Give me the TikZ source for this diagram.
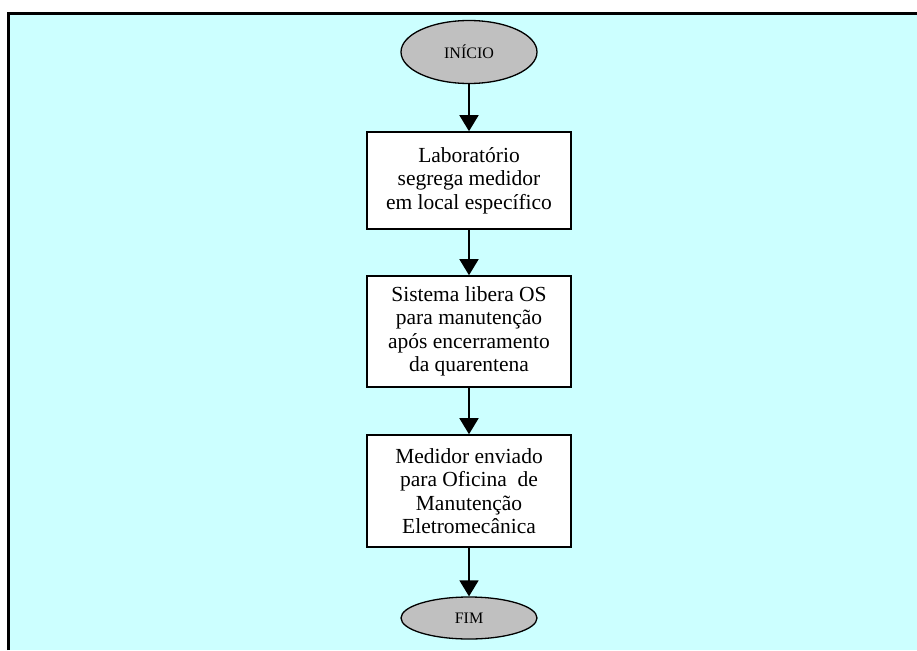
\documentclass[tikz,border=0pt]{standalone}
\usepackage{fontspec}
\setmainfont{Liberation Serif}
\usetikzlibrary{shapes.geometric,arrows.meta}
\definecolor{panelcyan}{HTML}{CCFFFF}
\definecolor{termgray}{HTML}{C0C0C0}
\tikzset{
  stepbox/.style={draw=black, line width=1.6pt, fill=white, rectangle,
    minimum width=204pt, align=center, inner sep=0pt,
    font=\fontsize{21.5}{23.5}\selectfont},
  terminal/.style={draw=black, line width=1.3pt, fill=termgray, ellipse,
    inner sep=0pt, font=\fontsize{16}{18}\selectfont},
  flow/.style={line width=1.6pt, -{Triangle[width=19pt,length=16pt]}, shorten >=0pt}
}
\begin{document}
\begin{tikzpicture}[x=1pt,y=-1pt]
  \useasboundingbox (0,0) rectangle (917,650);
  % panel background with its top and left border
  \fill[panelcyan] (9,14) rectangle (917,650);
  \draw[line width=2.6pt] (8.5,650) -- (8.5,13.5) -- (917,13.5);

  % flowchart
  \node[terminal, minimum width=136pt, minimum height=63pt] (inicio) at (469,52) {INÍCIO};
  \node[stepbox, minimum height=97pt] (lab) at (469,180.5)
    {Laboratório\\segrega medidor\\em local específico};
  \node[stepbox, minimum height=111pt] (sis) at (469,331.5)
    {Sistema libera OS\\para manutenção\\após encerramento\\da quarentena};
  \node[stepbox, minimum height=112pt] (med) at (469,491)
    {Medidor enviado\\para Oficina\ \ de\\Manutenção\\Eletromecânica};
  \node[terminal, minimum width=136pt, minimum height=42pt] (fim) at (469,618) {FIM};

  \draw[flow] (inicio) -- (lab);
  \draw[flow] (lab) -- (sis);
  \draw[flow] (sis) -- (med);
  \draw[flow] (med) -- (fim);
\end{tikzpicture}
\end{document}
